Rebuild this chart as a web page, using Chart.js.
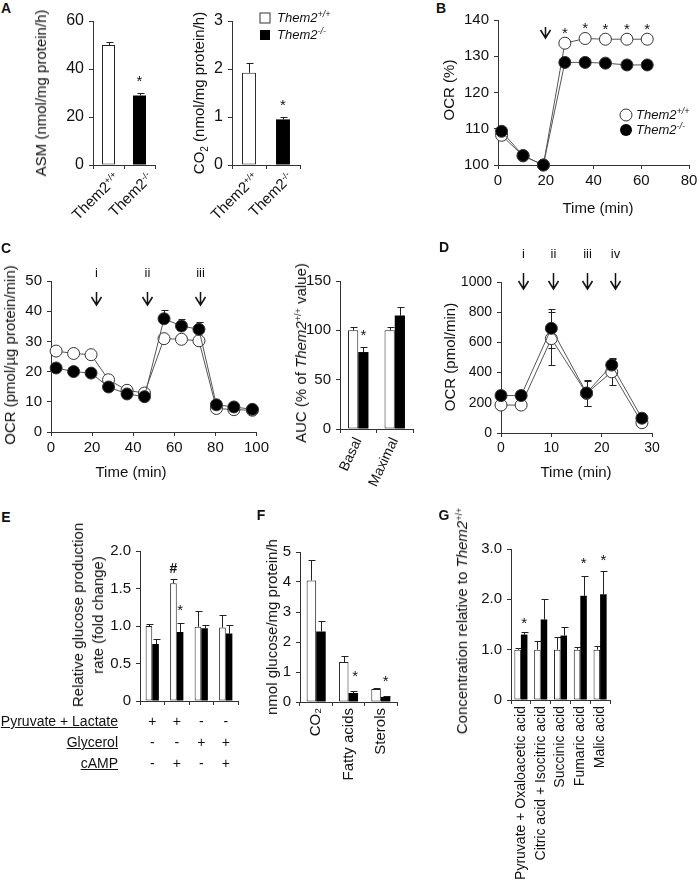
<!DOCTYPE html>
<html><head><meta charset="utf-8">
<script src="https://cdn.jsdelivr.net/npm/chart.js@4/dist/chart.umd.min.js"></script>
<style>
body{margin:0;background:#fff;}
#fig{position:relative;width:700px;height:887px;overflow:hidden;background:#fff;font-family:"Liberation Sans",Arial,sans-serif;color:#111;}
#fig canvas{position:absolute;}
.t{position:absolute;white-space:nowrap;font-size:15px;line-height:16px;}
.t sup{font-size:9px;vertical-align:5px;line-height:0;}
</style></head><body><div id="fig"></div>
<script>
// ---- data ----
const aGroups = ['Them2+/+', 'Them2-/-'];
const asmMean = [50, 29];
const asmErr = [1.2, 1.0];
const co2Mean = [1.92, 0.95];
const co2Err = [0.21, 0.05];

const bTime = [1.5, 10.5, 19, 28, 36.5, 45, 54, 62.5];
const bWT = [108.2, 102.5, 100, 133.6, 134.9, 134.7, 134.7, 134.7];
const bKO = [109.3, 102.6, 100, 128.3, 128.3, 128.1, 127.6, 127.6];

const cTime = [2.5, 11, 19.5, 28, 37, 45.5, 55, 63.5, 72, 80.5, 89, 98];
const cWT = [26.8, 26, 25.6, 17.3, 13.8, 12.9, 30.9, 30.7, 30.2, 7.8, 7.4, 7.2];
const cKO = [21.2, 20, 19.5, 14.9, 12.6, 11.7, 37.5, 35.1, 34, 9, 8.3, 7.5];
const cKOErr = [0, 0, 0, 0, 0, 0, 3, 2.2, 2.4, 0, 0, 0];

const aucGroups = ['Basal', 'Maximal'];
const aucWT = [100, 100];
const aucWTErr = [3, 3];
const aucKO = [78, 115];
const aucKOErr = [5, 9];

const dTime = [0, 4, 10, 17, 22, 28];
const dWT = [185, 185, 625, 262, 405, 68];
const dKO = [248, 248, 693, 265, 450, 98];
const dWTErr = [0, 0, 175, 80, 85, 0];
const dKOErr = [0, 0, 130, 85, 50, 0];

const eConds = ['Pyr+Lac', 'Pyr+Lac+cAMP', 'Gly', 'Gly+cAMP'];
const eWT = [1.0, 1.57, 0.99, 0.98];
const eWTErr = [0.03, 0.06, 0.21, 0.17];
const eKO = [0.76, 0.92, 0.97, 0.9];
const eKOErr = [0.07, 0.12, 0.05, 0.12];
const eRows = ['Pyruvate + Lactate', 'Glycerol', 'cAMP'];
const eSigns = [['+', '+', '-', '-'], ['-', '-', '+', '+'], ['-', '+', '-', '+']];

const fGroups = ['CO\u2082', 'Fatty acids', 'Sterols'];
const fWT = [4.05, 1.33, 0.43];
const fWTErr = [0.7, 0.2, 0.03];
const fKO = [2.35, 0.3, 0.17];
const fKOErr = [0.35, 0.07, 0.03];

const gGroups = ['Pyruvate + Oxaloacetic acid', 'Citric acid + Isocitric acid', 'Succinic acid', 'Fumaric acid', 'Malic acid'];
const gWT = [1, 1, 1, 1, 1];
const gWTErr = [0.03, 0.17, 0.25, 0.05, 0.08];
const gKO = [1.3, 1.6, 1.28, 2.07, 2.1];
const gKOErr = [0.06, 0.4, 0.17, 0.4, 0.47];

// ---- plugins ----
const FONT = '"Liberation Sans", "DejaVu Sans", Arial, sans-serif';
const errorBars = {
  id: 'errorBars',
  beforeDatasetsDraw(chart) {
    const ctx = chart.ctx, ys = chart.scales.y;
    ctx.save();
    ctx.strokeStyle = '#222'; ctx.lineWidth = 1;
    chart.data.datasets.forEach((ds, di) => {
      if (!ds.errors) return;
      chart.getDatasetMeta(di).data.forEach((el, i) => {
        const e = ds.errors[i];
        if (!e) return;
        const raw = ds.data[i];
        const v = raw.y !== undefined ? raw.y : raw;
        const top = Math.round(ys.getPixelForValue(v + e)) + 0.5;
        const bot = ds.twoSided ? Math.round(ys.getPixelForValue(v - e)) + 0.5 : ys.getPixelForValue(v);
        const x = Math.round(el.x) + 0.5;
        ctx.beginPath();
        ctx.moveTo(x, bot); ctx.lineTo(x, top);
        ctx.moveTo(x - 3, top); ctx.lineTo(x + 4, top);
        if (ds.twoSided) { ctx.moveTo(x - 3, bot); ctx.lineTo(x + 4, bot); }
        ctx.stroke();
      });
    });
    ctx.restore();
  }
};

const annot = {
  id: 'annot',
  afterDatasetsDraw(chart, args, opts) {
    const ctx = chart.ctx, ys = chart.scales.y, xs = chart.scales.x, top = chart.chartArea.top;
    ctx.save();
    ctx.fillStyle = '#111'; ctx.strokeStyle = '#111';
    (opts.stars || []).forEach(s => {
      const ds = chart.data.datasets[s.ds];
      const el = chart.getDatasetMeta(s.ds).data[s.i];
      const raw = ds.data[s.i];
      const v = (raw.y !== undefined ? raw.y : raw) + (ds.errors ? ds.errors[s.i] : 0);
      ctx.font = (s.bold ? 'bold ' : '') + (s.size || 15) + 'px ' + FONT;
      ctx.textAlign = 'center'; ctx.textBaseline = 'alphabetic';
      ctx.fillText(s.text || '*', el.x + (s.dx || 0), ys.getPixelForValue(v) - s.gap);
    });
    (opts.arrows || []).forEach(a => {
      const x = Math.round(xs.getPixelForValue(a.x)) + 0.5;
      const y1 = top + a.y1, y2 = top + a.y2;
      ctx.lineWidth = 1.5;
      ctx.beginPath();
      ctx.moveTo(x, y1); ctx.lineTo(x, y2);
      ctx.moveTo(x - 5, y2 - 8); ctx.lineTo(x, y2); ctx.lineTo(x + 5, y2 - 8);
      ctx.stroke();
      if (a.label) {
        ctx.font = '13px ' + FONT; ctx.textAlign = 'center'; ctx.textBaseline = 'middle';
        ctx.fillText(a.label, x, top + a.ly);
      }
    });
    ctx.restore();
  }
};

Chart.defaults.font.family = FONT;
Chart.defaults.color = '#111';
Chart.register(errorBars, annot);

const fig = document.getElementById('fig');

function panel(box, config, m) {
  m = Object.assign({ l: 50, t: 30, r: 15, b: 40 }, m || {});
  const w = box.r - box.l + m.l + m.r, h = box.b - box.t + m.t + m.b;
  const cv = document.createElement('canvas');
  cv.width = w; cv.height = h;
  cv.style.cssText = `left:${box.l - m.l}px;top:${box.t - m.t}px;width:${w}px;height:${h}px`;
  fig.appendChild(cv);
  const o = config.options;
  o.responsive = false;
  o.animation = false;
  o.layout = { padding: { left: 0, top: m.t, right: m.r, bottom: 0 } };
  o.plugins = Object.assign({ legend: { display: false }, tooltip: { enabled: false } }, o.plugins || {});
  o.scales.x.afterFit = s => { s.height = m.b; };
  o.scales.y.afterFit = s => { s.width = m.l; };
  const ch = new Chart(cv, config);
  ch.$ox = box.l - m.l;
  ch.$oy = box.t - m.t;
  return ch;
}

function yAxis(min, max, step, size, fmt) {
  return {
    min, max,
    ticks: { stepSize: step, padding: 5, color: '#111', font: { size }, callback: fmt || (v => v) },
    grid: { drawOnChartArea: false, tickLength: 4, color: '#333' },
    border: { color: '#333' }
  };
}
function xLin(min, max, step, size) {
  return {
    type: 'linear', min, max,
    ticks: { stepSize: step, padding: 3, color: '#111', font: { size }, maxRotation: 0 },
    grid: { drawOnChartArea: false, tickLength: 4, color: '#333' },
    border: { color: '#333' }
  };
}
function xCat(show, size, rot) {
  return {
    type: 'category',
    ticks: { display: show, autoSkip: false, padding: 2, color: '#111', font: { size: size || 14 }, minRotation: rot || 0, maxRotation: rot || 0 },
    grid: { drawOnChartArea: false, offset: true, tickLength: 4, color: '#333' },
    border: { color: '#333' }
  };
}
function barSet(data, errors, white) {
  return { data, errors, backgroundColor: white ? '#fff' : '#000', borderColor: '#222', borderWidth: white ? 1 : 0, borderSkipped: false };
}
function lineSet(xs, ys, white, errors, twoSided) {
  return {
    data: xs.map((x, i) => ({ x, y: ys[i] })), errors, twoSided,
    borderColor: '#555', borderWidth: 1, pointRadius: 6,
    pointBackgroundColor: white ? '#fff' : '#000', pointBorderColor: '#333', pointBorderWidth: 1,
    clip: false, order: white ? 1 : 0
  };
}
const dec = v => (v === 0 ? '0' : v.toFixed(1));

// ---- A ----
panel({ l: 93, t: 21, r: 155, b: 165 }, {
  type: 'bar',
  data: { labels: aGroups, datasets: [{ data: asmMean, errors: asmErr, backgroundColor: ['#fff', '#000'], borderColor: '#222', borderWidth: [1, 0], borderSkipped: false }] },
  options: {
    datasets: { bar: { barPercentage: 1, categoryPercentage: 0.42 } },
    scales: { x: xCat(false), y: yAxis(0, 60, 20, 16) },
    plugins: { annot: { stars: [{ ds: 0, i: 1, gap: 7 }] } }
  }
});
panel({ l: 232, t: 21, r: 300, b: 165 }, {
  type: 'bar',
  data: { labels: aGroups, datasets: [{ data: co2Mean, errors: co2Err, backgroundColor: ['#fff', '#000'], borderColor: '#222', borderWidth: [1, 0], borderSkipped: false }] },
  options: {
    datasets: { bar: { barPercentage: 1, categoryPercentage: 0.41 } },
    scales: { x: xCat(false), y: yAxis(0, 3, 1, 16) },
    plugins: { annot: { stars: [{ ds: 0, i: 1, gap: 7 }] } }
  }
});

// ---- B ----
panel({ l: 498, t: 20, r: 689, b: 165 }, {
  type: 'line',
  data: { datasets: [lineSet(bTime, bWT, true), lineSet(bTime, bKO, false)] },
  options: {
    scales: { x: xLin(0, 80, 20, 15), y: yAxis(100, 140, 10, 15) },
    plugins: { annot: {
      stars: [3, 4, 5, 6, 7].map(i => ({ ds: 0, i, gap: 5 })),
      arrows: [{ x: 19.5, y1: 7, y2: 18 }]
    } }
  }
});

// ---- C ----
panel({ l: 51, t: 281, r: 257, b: 432 }, {
  type: 'line',
  data: { datasets: [lineSet(cTime, cWT, true), lineSet(cTime, cKO, false, cKOErr)] },
  options: {
    scales: { x: xLin(0, 100, 20, 15), y: yAxis(0, 50, 10, 15) },
    plugins: { annot: { arrows: [
      { x: 21.8, y1: 11, y2: 24, label: 'i', ly: -8 },
      { x: 46.8, y1: 11, y2: 24, label: 'ii', ly: -8 },
      { x: 72.6, y1: 11, y2: 24, label: 'iii', ly: -8 }
    ] } }
  }
});
panel({ l: 340, t: 281, r: 413, b: 429 }, {
  type: 'bar',
  data: { labels: aucGroups, datasets: [barSet(aucWT, aucWTErr, true), barSet(aucKO, aucKOErr, false)] },
  options: {
    datasets: { bar: { barPercentage: 1, categoryPercentage: 0.56 } },
    scales: { x: xCat(true, 14, 65), y: yAxis(0, 150, 50, 15) },
    plugins: { annot: { stars: [{ ds: 1, i: 0, gap: 7 }] } }
  }
}, { b: 60 });

// ---- D ----
panel({ l: 501, t: 282, r: 652, b: 433 }, {
  type: 'line',
  data: { datasets: [lineSet(dTime, dWT, true, dWTErr, true), lineSet(dTime, dKO, false, dKOErr, true)] },
  options: {
    scales: { x: xLin(0, 30, 10, 14), y: yAxis(0, 1000, 200, 14) },
    plugins: { annot: { arrows: [
      { x: 4.3, y1: -9, y2: 7, label: 'i', ly: -28 },
      { x: 10.3, y1: -9, y2: 7, label: 'ii', ly: -28 },
      { x: 17.1, y1: -9, y2: 7, label: 'iii', ly: -28 },
      { x: 22.6, y1: -9, y2: 7, label: 'iv', ly: -28 }
    ] } }
  }
}, { t: 40 });

// ---- E ----
const eChart = panel({ l: 140, t: 551, r: 238, b: 701 }, {
  type: 'bar',
  data: { labels: eConds, datasets: [barSet(eWT, eWTErr, true), barSet(eKO, eKOErr, false)] },
  options: {
    datasets: { bar: { barPercentage: 1, categoryPercentage: 0.54 } },
    scales: { x: xCat(false), y: yAxis(0, 2, 0.5, 15, dec) },
    plugins: { annot: { stars: [
      { ds: 0, i: 1, text: '#', gap: 6, size: 14, bold: true },
      { ds: 1, i: 1, gap: 8 }
    ] } }
  }
});

// ---- F ----
panel({ l: 300, t: 552, r: 397, b: 702 }, {
  type: 'bar',
  data: { labels: fGroups, datasets: [barSet(fWT, fWTErr, true), barSet(fKO, fKOErr, false)] },
  options: {
    datasets: { bar: { barPercentage: 1, categoryPercentage: 0.59 } },
    scales: { x: xCat(true, 15, 90), y: yAxis(0, 5, 1, 15) },
    plugins: { annot: { stars: [{ ds: 1, i: 1, gap: 10, dx: 2 }, { ds: 1, i: 2, gap: 10 }] } }
  }
}, { b: 95 });

// ---- G ----
panel({ l: 511, t: 549, r: 610, b: 700 }, {
  type: 'bar',
  data: { labels: gGroups, datasets: [barSet(gWT, gWTErr, true), barSet(gKO, gKOErr, false)] },
  options: {
    datasets: { bar: { barPercentage: 1, categoryPercentage: 0.66 } },
    scales: { x: xCat(true, 14, 90), y: yAxis(0, 3, 1, 15, dec) },
    plugins: { annot: { stars: [{ ds: 1, i: 0, gap: 4 }, { ds: 1, i: 3, gap: 8 }, { ds: 1, i: 4, gap: 6 }] } }
  }
}, { b: 185 });

// ---- text overlays ----
function put(html, x, y, rot, css) {
  const d = document.createElement('div');
  d.className = 't';
  d.innerHTML = html;
  d.style.left = x + 'px';
  d.style.top = y + 'px';
  d.style.transform = 'translate(-50%,-50%)' + (rot ? ` rotate(${rot}deg)` : '');
  if (css) d.style.cssText += css;
  fig.appendChild(d);
  return d;
}
function putEnd(html, x, y, rot, css) {
  const d = document.createElement('div');
  d.className = 't';
  d.innerHTML = html;
  d.style.right = (700 - x) + 'px';
  d.style.top = (y - 8) + 'px';
  d.style.transformOrigin = '100% 50%';
  d.style.transform = `rotate(${rot}deg)`;
  if (css) d.style.cssText += css;
  fig.appendChild(d);
  return d;
}
const WT = 'Them2<sup>+/+</sup>', KO = 'Them2<sup>-/-</sup>';

// panel letters
[['A', 6, 8], ['B', 441, 8], ['C', 6, 248], ['D', 444, 247], ['E', 6, 517], ['F', 261, 515], ['G', 444, 515]]
  .forEach(([s, x, y]) => put(s, x, y, 0, 'font-weight:bold;font-size:14px'));

// A
put('ASM (nmol/mg protein/h)', 41, 93, -90);
put('CO<sub style="font-size:10px;line-height:0">2</sub> (nmol/mg protein/h)', 199, 93, -90);
putEnd(WT, 117, 175, -45);
putEnd(KO, 150, 175, -45);
putEnd(WT, 256, 175, -45);
putEnd(KO, 290, 175, -45);
put('', 265, 18, 0, 'width:9px;height:9px;border:1px solid #333;background:#fff');
put('', 265, 35, 0, 'width:10px;height:10px;background:#000');
put('<i>' + WT + '</i>', 277, 18, 0, 'transform:translate(0,-50%);font-size:13px');
put('<i>' + KO + '</i>', 277, 35, 0, 'transform:translate(0,-50%);font-size:13px');

// B
put('OCR (%)', 449, 90, -90);
put('Time (min)', 598, 208);
put('', 626, 115, 0, 'width:11px;height:11px;border:1px solid #333;border-radius:50%;background:#fff');
put('', 626, 130, 0, 'width:12px;height:12px;border-radius:50%;background:#000');
put('<i>' + WT + '</i>', 636, 115, 0, 'transform:translate(0,-50%);font-size:13px');
put('<i>' + KO + '</i>', 636, 130, 0, 'transform:translate(0,-50%);font-size:13px');

// C
put('OCR (pmol/\u00b5g protein/min)', 10, 355, -90);
put('Time (min)', 131, 472);
put('AUC (% of <i>Them2</i><sup>+/+</sup> value)', 301, 353, -90);

// D
put('OCR (pmol/min)', 450, 357, -90);
put('Time (min)', 576, 472);

// E
put('Relative glucose production<br>rate (fold change)', 88, 615, -90, 'text-align:center;line-height:20px');
eRows.forEach((r, k) => {
  const y = 721 + k * 21;
  putEnd(r, 118, y, 0, 'text-decoration:underline;font-size:14px');
  eSigns[k].forEach((s, i) => {
    const x = eChart.$ox + eChart.scales.x.getPixelForValue(i);
    put(s, x, y, 0, 'font-size:14px');
  });
});

// F
put('nmol glucose/mg protein/h', 272, 627, -90);

// G
put('Concentration relative to <i>Them2</i><sup>+/+</sup>', 462, 621, -90);
</script></body></html>
